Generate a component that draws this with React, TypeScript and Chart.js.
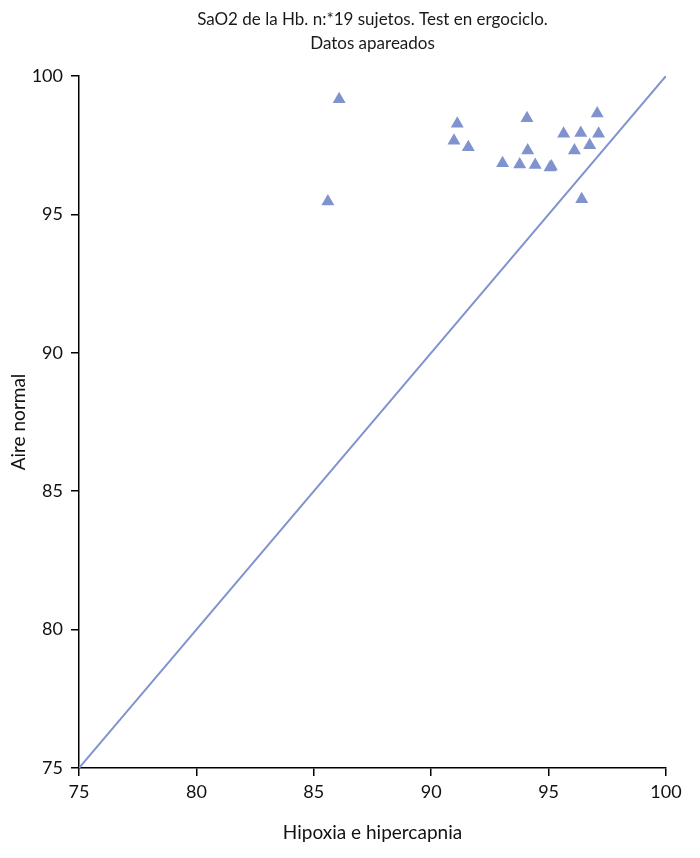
import React, { useEffect, useRef } from "react";
import { Chart, registerables } from "chart.js";

Chart.register(...registerables);

const titleLines = ["SaO2 de la Hb. n:*19 sujetos. Test en ergociclo.", "Datos apareados"];
const xTitle = "Hipoxia e hipercapnia";
const yTitle = "Aire normal";

// Hipoxia e hipercapnia (x) vs Aire normal (y)
const hipoxia = [86.08, 85.6, 91.11, 90.97, 91.58, 94.08, 94.11, 93.04, 93.77, 94.43, 95.06, 95.12, 95.64, 96.37, 97.13, 97.07, 96.1, 96.75, 96.41];
const aireNormal = [99.16, 95.46, 98.27, 97.66, 97.42, 98.47, 97.31, 96.85, 96.8, 96.78, 96.69, 96.73, 97.91, 97.94, 97.91, 98.64, 97.31, 97.5, 95.55];

const identityLine = [75, 100];
const axisMin = 75;
const axisMax = 100;
const tickStep = 5;

const COLOR = "#8193cf";
const FONT = "Lato, 'Open Sans', sans-serif";

export default function App() {
  const ref = useRef<HTMLCanvasElement>(null);
  useEffect(() => {
    document.body.style.margin = "0";
    const ctx = ref.current!;
    const chart = new Chart(ctx, {
      type: "scatter",
      data: {
        datasets: [
          {
            type: "line",
            data: identityLine.map((v) => ({ x: v, y: v })),
            borderColor: COLOR,
            borderWidth: 2,
            pointRadius: 0,
            fill: false,
          } as any,
          {
            data: hipoxia.map((x, i) => ({ x, y: aireNormal[i] })),
            pointStyle: "triangle",
            pointRadius: 7.5,
            backgroundColor: COLOR,
            borderColor: COLOR,
            borderWidth: 0,
          },
        ],
      },
      options: {
        animation: false,
        responsive: false,
        layout: { padding: { left: 0, right: 34, top: 0, bottom: 0 } },
        plugins: {
          legend: { display: false },
          tooltip: { enabled: false },
          title: {
            display: true,
            text: titleLines,
            fullSize: false,
            color: "#1a1a1a",
            font: { family: FONT, size: 17, weight: "normal", lineHeight: 1.41 },
            padding: { top: 8, bottom: 20 },
          },
        },
        scales: {
          x: {
            type: "linear",
            min: axisMin,
            max: axisMax,
            afterFit: (s: any) => {
              s.height = 90;
            },
            ticks: {
              stepSize: tickStep,
              color: "#111",
              font: { family: FONT, size: 18 },
              padding: 5,
              maxRotation: 0,
            },
            grid: { drawOnChartArea: false, drawTicks: true, tickLength: 8, color: "#000", lineWidth: 1.5 },
            border: { color: "#000", width: 1.5 },
            title: {
              display: true,
              text: xTitle,
              color: "#111",
              font: { family: FONT, size: 19, lineHeight: 1.2 },
              padding: { top: 4, bottom: 14 },
            },
          },
          y: {
            type: "linear",
            min: axisMin,
            max: axisMax,
            afterFit: (s: any) => {
              s.width = 79;
            },
            ticks: {
              stepSize: tickStep,
              color: "#111",
              font: { family: FONT, size: 18 },
              padding: 8,
            },
            grid: { drawOnChartArea: false, drawTicks: true, tickLength: 8, color: "#000", lineWidth: 1.5 },
            border: { color: "#000", width: 1.5 },
            title: {
              display: true,
              text: yTitle,
              color: "#111",
              font: { family: FONT, size: 19, lineHeight: 1.2 },
              padding: { top: 7, bottom: 4 },
            },
          },
        },
      },
    });
    return () => chart.destroy();
  }, []);
  return (
    <div style={{ width: 700, height: 858, background: "#fff" }}>
      <canvas ref={ref} width={700} height={858} />
    </div>
  );
}
